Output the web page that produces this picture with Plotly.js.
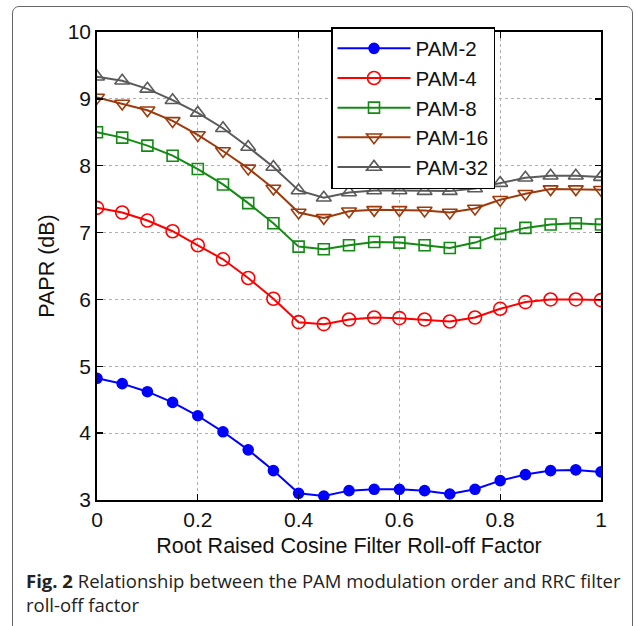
<!DOCTYPE html>
<html>
<head>
<meta charset="utf-8">
<script src="https://cdn.plot.ly/plotly-3.0.1.min.js"></script>
<style>
  html, body { margin: 0; padding: 0; background: #fff; }
  #wrap { position: relative; width: 636px; height: 626px; }
  #chart { width: 636px; height: 626px; }
  #frame { position: absolute; left: 12px; top: 6px; width: 621px; height: 640px;
           border: 1.3px solid #666; border-radius: 7px; pointer-events: none; box-sizing: border-box; }
</style>
</head>
<body>
<div id="wrap">
  <div id="chart"></div>
  <div id="frame"></div>
</div>
<script>
const rollOff = [0, 0.05, 0.1, 0.15, 0.2, 0.25, 0.3, 0.35, 0.4, 0.45, 0.5, 0.55, 0.6, 0.65, 0.7, 0.75, 0.8, 0.85, 0.9, 0.95, 1.0];
const pam2  = [4.82, 4.74, 4.62, 4.46, 4.26, 4.02, 3.75, 3.44, 3.10, 3.06, 3.14, 3.16, 3.16, 3.14, 3.09, 3.16, 3.29, 3.38, 3.44, 3.45, 3.42];
const pam4  = [7.37, 7.30, 7.18, 7.02, 6.81, 6.60, 6.32, 6.01, 5.66, 5.63, 5.70, 5.73, 5.72, 5.70, 5.67, 5.73, 5.86, 5.96, 6.00, 6.00, 5.99];
const pam8  = [8.50, 8.42, 8.30, 8.15, 7.95, 7.72, 7.44, 7.14, 6.79, 6.75, 6.81, 6.86, 6.85, 6.81, 6.77, 6.85, 6.98, 7.07, 7.12, 7.14, 7.12];
const pam16 = [9.02, 8.93, 8.83, 8.67, 8.46, 8.22, 7.96, 7.66, 7.30, 7.22, 7.32, 7.34, 7.34, 7.33, 7.30, 7.36, 7.49, 7.58, 7.65, 7.65, 7.64];
const pam32 = [9.33, 9.27, 9.15, 8.98, 8.79, 8.56, 8.28, 7.98, 7.63, 7.52, 7.60, 7.63, 7.63, 7.62, 7.62, 7.66, 7.74, 7.82, 7.85, 7.85, 7.83];
const seriesNames = ["PAM-2", "PAM-4", "PAM-8", "PAM-16", "PAM-32"];
const xTicks = [0, 0.2, 0.4, 0.6, 0.8, 1];
const xTickText = ["0", "0.2", "0.4", "0.6", "0.8", "1"];
const yTicks = [3, 4, 5, 6, 7, 8, 9, 10];
const captionBold = "Fig. 2";
const captionText = "Relationship between the PAM modulation order and RRC filter<br>roll-off factor";

const styles = [
  {color: "#0000ff", symbol: "circle", size: 10},
  {color: "#ff0000", symbol: "circle-open", size: 13},
  {color: "#138a13", symbol: "square-open", size: 11},
  {color: "#9c3a0c", symbol: "triangle-down-open", size: 13},
  {color: "#5a5a5a", symbol: "triangle-up-open", size: 13}
];
const allY = [pam2, pam4, pam8, pam16, pam32];

const traces = allY.map((ys, i) => ({
  x: rollOff, y: ys, name: seriesNames[i], type: "scatter", mode: "lines+markers",
  line: {color: styles[i].color, width: 2},
  marker: {color: styles[i].color, symbol: styles[i].symbol, size: styles[i].size,
           line: {color: styles[i].color, width: 1.6}}
}));

const L = 97, T = 32, R = 601, B = 500;
const pw = R - L, ph = B - T;
const px = v => (v - L) / pw;
const py = v => (B - v) / ph;

const tickFont = {family: "Arial", size: 21, color: "#111"};
const titleFont = {family: "Arial", size: 21.5, color: "#111"};

const layout = {
  width: 636, height: 626,
  margin: {l: L, r: 636 - R, t: T, b: 626 - B},
  paper_bgcolor: "#fff", plot_bgcolor: "#fff",
  showlegend: true,
  legend: {
    x: px(331), y: py(27), xanchor: "left", yanchor: "top",
    bgcolor: "#fff", bordercolor: "#000", borderwidth: 1.5,
    font: {family: "Arial", size: 20.5, color: "#111"},
    itemwidth: 73, traceorder: "normal"
  },
  xaxis: {
    range: [0, 1], tickvals: xTicks, ticktext: xTickText,
    ticks: "inside", ticklen: 6, tickwidth: 1.3, tickcolor: "#000",
    showline: true, linecolor: "#000", linewidth: 1.8, mirror: "ticks",
    showgrid: true, gridcolor: "#b0b0b0", griddash: "dot", gridwidth: 1,
    zeroline: false, tickfont: tickFont,
    title: {text: "Root Raised Cosine Filter Roll-off Factor", font: titleFont, standoff: 8}
  },
  yaxis: {
    range: [3, 10], tickvals: yTicks,
    ticks: "inside", ticklen: 6, tickwidth: 1.3, tickcolor: "#000",
    showline: true, linecolor: "#000", linewidth: 1.8, mirror: "ticks",
    showgrid: true, gridcolor: "#b0b0b0", griddash: "dot", gridwidth: 1,
    zeroline: false, tickfont: tickFont,
    title: {text: "PAPR (dB)", font: titleFont, standoff: 7}
  },
  annotations: [{
    xref: "paper", yref: "paper", x: px(24), y: py(566), xanchor: "left", yanchor: "top",
    align: "left", showarrow: false,
    text: "<b>" + captionBold + "</b> " + captionText,
    font: {family: "Open Sans", size: 18.5, color: "#222"}
  }]
};

Plotly.newPlot("chart", traces, layout, {displayModeBar: false, staticPlot: true});
</script>
</body>
</html>
